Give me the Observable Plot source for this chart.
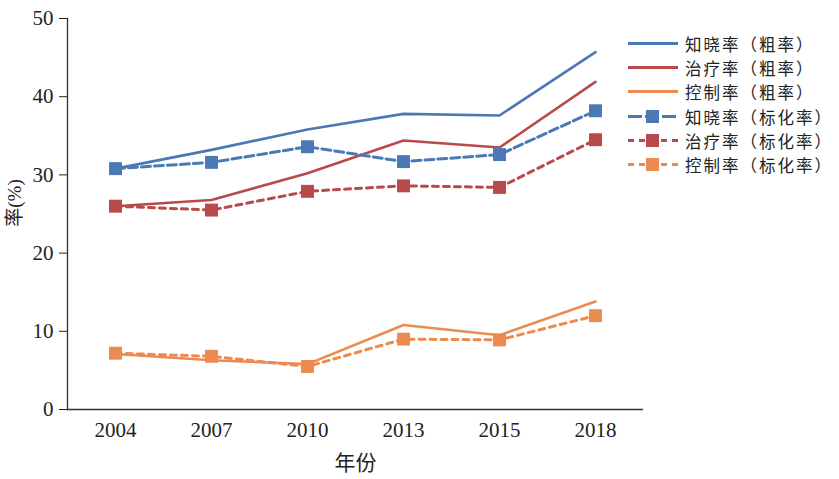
<!DOCTYPE html>
<html>
<head>
<meta charset="utf-8">
<script src="https://cdn.jsdelivr.net/npm/d3@7"></script>
<script src="https://cdn.jsdelivr.net/npm/@observablehq/plot@0.6"></script>
<style>
  body { margin: 0; background: #fff; }
  #wrap { position: relative; width: 839px; height: 479px; }
  #legend { position: absolute; left: 627px; top: 32px; font-family: "Noto Sans CJK SC", sans-serif; font-size: 16.5px; letter-spacing: 2px; color: #222; }
  .row { display: flex; align-items: center; height: 24.2px; white-space: nowrap; }
  .row span { line-height: 20px; display: inline-block; }
  .row svg { margin-right: 6px; }
  #ylabel { position: absolute; left: 15px; top: 203px; transform: translate(-50%, -50%) rotate(-90deg); font-family: "Liberation Serif", "Noto Sans CJK SC", serif; font-size: 19px; line-height: 20px; white-space: nowrap; color: #222; }
</style>
</head>
<body>
<div id="wrap"><div id="legend"></div><div id="ylabel">率(%)</div></div>
<script>
const years = ["2004", "2007", "2010", "2013", "2015", "2018"];
const seriesNames = ["知晓率（粗率）", "治疗率（粗率）", "控制率（粗率）", "知晓率（标化率）", "治疗率（标化率）", "控制率（标化率）"];
const awareCrude = [30.8, 33.2, 35.8, 37.8, 37.6, 45.7];
const treatCrude = [26.0, 26.8, 30.2, 34.4, 33.5, 41.9];
const controlCrude = [7.1, 6.3, 5.8, 10.8, 9.5, 13.8];
const awareStd = [30.8, 31.6, 33.6, 31.7, 32.6, 38.2];
const treatStd = [26.0, 25.5, 27.9, 28.6, 28.4, 34.5];
const controlStd = [7.2, 6.8, 5.5, 9.0, 8.9, 12.0];
const yTicks = [0, 10, 20, 30, 40, 50];

const colors = ["#4a79b5", "#b84a4b", "#ec8b50", "#4a79b5", "#b84a4b", "#ec8b50"];
const dashes = [null, null, null, "9,4", "6,5", "6,5"];
const allValues = [awareCrude, treatCrude, controlCrude, awareStd, treatStd, controlStd];

const tables = allValues.map((vals, i) => years.map((y, j) => ({year: y, value: vals[j], series: seriesNames[i]})));

const font = "Liberation Serif, Noto Sans CJK SC, serif";
const marks = [
  Plot.ruleY([0], {stroke: "#333", strokeWidth: 1.3}),
  Plot.frame({anchor: "left", stroke: "#333", strokeWidth: 1.3}),
  Plot.axisY({ticks: yTicks, tickSize: 8, tickPadding: 6, fontSize: 21, label: null, fontFamily: font}),
  Plot.axisX({tickSize: 0, tickPadding: 13, fontSize: 21, label: "年份", labelAnchor: "center", labelOffset: 60, fontFamily: font})
];
tables.forEach((t, i) => {
  marks.push(Plot.line(t, {x: "year", y: "value", stroke: colors[i], strokeWidth: i < 3 ? 2.6 : 3, strokeDasharray: dashes[i]}));
});
tables.slice(3).forEach((t, i) => {
  marks.push(Plot.dot(t, {x: "year", y: "value", symbol: "square", fill: colors[i + 3], stroke: "none", r: 7.3}));
});

const chart = Plot.plot({
  width: 839,
  height: 479,
  marginLeft: 67,
  marginRight: 196,
  marginTop: 18,
  marginBottom: 70,
  style: {fontFamily: font, color: "#222", background: "#fff", fontSize: "19px"},
  x: {type: "point", domain: years, padding: 0.5},
  y: {domain: [0, 50]},
  marks
});
document.getElementById("wrap").prepend(chart);

const legend = document.getElementById("legend");
seriesNames.forEach((name, i) => {
  const row = document.createElement("div");
  row.className = "row";
  const sq = i >= 3 ? `<rect x="19" y="5" width="13" height="13" fill="${colors[i]}"/>` : "";
  row.innerHTML = `<svg width="52" height="24"><line x1="1" x2="51" y1="11.5" y2="11.5" stroke="${colors[i]}" stroke-width="3" ${dashes[i] ? `stroke-dasharray="${i === 3 ? '14,3' : '6,5'}"` : ""}/>${sq}</svg><span>${name}</span>`;
  legend.appendChild(row);
});
</script>
</body>
</html>
